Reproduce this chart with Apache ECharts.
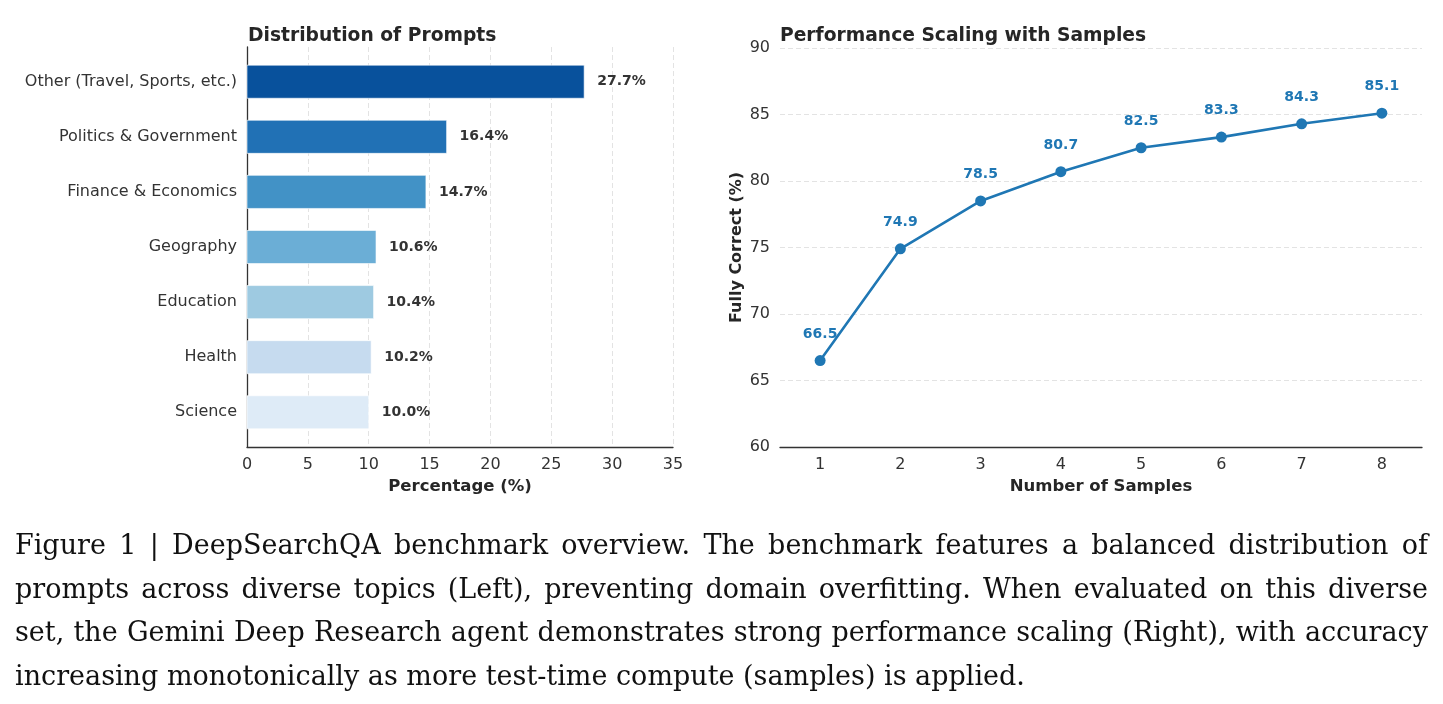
<!DOCTYPE html>
<html>
<head>
<meta charset="utf-8">
<script src="https://cdn.jsdelivr.net/npm/echarts@6/dist/echarts.min.js"></script>
<style>
html,body{margin:0;padding:0;background:#fff;}
#chart{position:absolute;left:0;top:0;width:1443px;height:704px;}
#caption{position:absolute;left:15px;top:523px;width:1413px;font-family:"DejaVu Serif","Liberation Serif",serif;font-size:27px;line-height:43.5px;color:#111;}
#caption div{text-align:justify;text-align-last:justify;white-space:nowrap;}
#caption div.last{text-align-last:left;}
</style>
</head>
<body>
<div id="chart"></div>
<div id="caption"></div>
<script>
// ---- data ----
const categories = ['Other (Travel, Sports, etc.)', 'Politics & Government', 'Finance & Economics', 'Geography', 'Education', 'Health', 'Science'];
const percentages = [27.7, 16.4, 14.7, 10.6, 10.4, 10.2, 10.0];
const barColors = ['#08519c', '#2171b5', '#4292c6', '#6baed6', '#9ecae1', '#c6dbef', '#deebf7'];
const sampleCounts = ['1', '2', '3', '4', '5', '6', '7', '8'];
const fullyCorrect = [66.5, 74.9, 78.5, 80.7, 82.5, 83.3, 84.3, 85.1];
const captionLines = [
  'Figure 1 | DeepSearchQA benchmark overview. The benchmark features a balanced distribution of',
  'prompts across diverse topics (Left), preventing domain overfitting. When evaluated on this diverse',
  'set, the Gemini Deep Research agent demonstrates strong performance scaling (Right), with accuracy',
  'increasing monotonically as more test-time compute (samples) is applied.'
];

// caption
const cap = document.getElementById('caption');
captionLines.forEach((t, i) => {
  const d = document.createElement('div');
  d.textContent = t;
  if (i === captionLines.length - 1) d.className = 'last';
  cap.appendChild(d);
});

const FONT = 'DejaVu Sans';
const TXT = '#333333';
const chart = echarts.init(document.getElementById('chart'), null, {renderer: 'canvas'});

const barData = percentages.map((v, i) => [v, i]);
const catLabelData = categories.map((c, i) => [0, i]);

const option = {
  backgroundColor: '#ffffff',
  animation: false,
  textStyle: {fontFamily: FONT},
  title: [
    {text: 'Distribution of Prompts', left: 243, top: 22,
     textStyle: {fontFamily: FONT, fontSize: 18.7, fontWeight: 'bold', color: '#262626'}},
    {text: 'Performance Scaling with Samples', left: 775, top: 22,
     textStyle: {fontFamily: FONT, fontSize: 18.7, fontWeight: 'bold', color: '#262626'}}
  ],
  grid: [
    {left: 247, top: 47, width: 426, height: 400, containLabel: false},
    {left: 780, top: 48, width: 642, height: 399, containLabel: false}
  ],
  xAxis: [
    {gridIndex: 0, type: 'value', min: 0, max: 35, interval: 5,
     axisLine: {show: true, onZero: false, lineStyle: {color: '#333', width: 1.3}},
     axisTick: {show: false},
     axisLabel: {fontFamily: FONT, fontSize: 16, color: TXT, margin: 10},
     splitLine: {show: true, lineStyle: {color: '#e3e3e3', type: [5, 3], width: 1}},
     name: 'Percentage (%)', nameLocation: 'middle', nameGap: 29,
     nameTextStyle: {fontFamily: FONT, fontSize: 16.5, fontWeight: 'bold', color: '#262626'}},
    {gridIndex: 1, type: 'category', data: sampleCounts, boundaryGap: true,
     axisLine: {show: true, onZero: false, lineStyle: {color: '#333', width: 1.3}},
     axisTick: {show: false},
     axisLabel: {fontFamily: FONT, fontSize: 16, color: TXT, margin: 10},
     splitLine: {show: false},
     name: 'Number of Samples', nameLocation: 'middle', nameGap: 29,
     nameTextStyle: {fontFamily: FONT, fontSize: 16.5, fontWeight: 'bold', color: '#262626'}}
  ],
  yAxis: [
    {gridIndex: 0, type: 'value', min: -0.63, max: 6.63, inverse: true,
     axisLine: {show: true, onZero: false, lineStyle: {color: '#333', width: 1.3}},
     axisTick: {show: false}, axisLabel: {show: false}, splitLine: {show: false}},
    {gridIndex: 1, type: 'value', min: 60, max: 90, interval: 5,
     axisLine: {show: false}, axisTick: {show: false},
     axisLabel: {fontFamily: FONT, fontSize: 16, color: TXT, margin: 10},
     splitLine: {show: true, lineStyle: {color: '#e3e3e3', type: [5, 3], width: 1}},
     name: 'Fully Correct (%)', nameLocation: 'middle', nameGap: 35, nameRotate: 90,
     nameTextStyle: {fontFamily: FONT, fontSize: 16, fontWeight: 'bold', color: '#262626'}}
  ],
  series: [
    {
      type: 'custom', xAxisIndex: 0, yAxisIndex: 0, data: barData,
      encode: {x: 0, y: 1},
      renderItem: function (params, api) {
        const v = api.value(0), i = api.value(1);
        const p0 = api.coord([0, i]);
        const p1 = api.coord([v, i]);
        const h = api.size([0, 0.6])[1];
        return {
          type: 'group',
          children: [
            {type: 'rect',
             shape: {x: p0[0], y: p0[1] - h / 2, width: p1[0] - p0[0], height: h},
             style: {fill: barColors[params.dataIndex], stroke: 'rgba(255,255,255,0.6)', lineWidth: 1}},
            {type: 'text',
             style: {x: p1[0] + 13, y: p1[1], text: v.toFixed(1) + '%', verticalAlign: 'middle', align: 'left',
                     font: 'bold 14px "DejaVu Sans"', fill: '#333'}}
          ]
        };
      }
    },
    {
      type: 'scatter', xAxisIndex: 0, yAxisIndex: 0, data: catLabelData,
      symbolSize: 0, silent: true,
      itemStyle: {opacity: 1},
      label: {show: true, position: 'left', distance: 10, opacity: 1,
              formatter: p => categories[p.dataIndex],
              fontFamily: FONT, fontSize: 16, color: TXT}
    },
    {
      type: 'line', xAxisIndex: 1, yAxisIndex: 1, data: fullyCorrect,
      color: '#1f77b4',
      lineStyle: {color: '#1f77b4', width: 2.6},
      symbol: 'circle', symbolSize: 11,
      itemStyle: {color: '#1f77b4'},
      label: {show: true, position: 'top', distance: 14,
              formatter: p => p.value.toFixed(1),
              fontFamily: FONT, fontSize: 14, fontWeight: 'bold', color: '#1f77b4'}
    }
  ]
};
chart.setOption(option);
</script>
</body>
</html>
